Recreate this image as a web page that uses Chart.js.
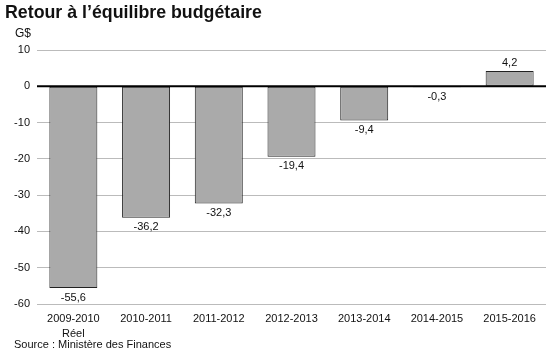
<!DOCTYPE html>
<html>
<head>
<meta charset="utf-8">
<script src="https://cdn.jsdelivr.net/npm/chart.js@4/dist/chart.umd.min.js"></script>
<style>
  body { margin: 0; background: #fff; font-family: "Liberation Sans", Arial, sans-serif; }
  #wrap { position: relative; width: 560px; height: 362px; }
  #title { position: absolute; left: 5px; top: 2px; font-size: 17.8px; font-weight: bold; color: #111; }
  #unit { position: absolute; left: 15px; top: 26px; font-size: 12px; color: #111; }
  #source { position: absolute; left: 14px; top: 338px; font-size: 11px; color: #111; }
  canvas { position: absolute; left: 0; top: 0; }
</style>
</head>
<body>
<div id="wrap">
  <canvas id="chart" width="560" height="362"></canvas>
  <div id="title">Retour à l’équilibre budgétaire</div>
  <div id="unit">G$</div>
  <div id="source">Source : Ministère des Finances</div>
</div>
<script>
  const labels = [
    ['2009-2010', 'Réel'],
    '2010-2011',
    '2011-2012',
    '2012-2013',
    '2013-2014',
    '2014-2015',
    '2015-2016',
  ];
  const soldes = [-55.6, -36.2, -32.3, -19.4, -9.4, -0.3, 4.2];
  const yTicks = [10, 0, -10, -20, -30, -40, -50, -60];

  const valueLabels = {
    id: 'valueLabels',
    afterDatasetsDraw(chart) {
      const ctx = chart.ctx;
      const meta = chart.getDatasetMeta(0);
      ctx.save();
      ctx.font = '11px "Liberation Sans", Arial, sans-serif';
      ctx.fillStyle = '#111';
      ctx.textAlign = 'center';
      meta.data.forEach((bar, i) => {
        const v = soldes[i];
        const txt = v.toFixed(1).replace('.', ',');
        if (v >= 0) {
          ctx.textBaseline = 'bottom';
          ctx.fillText(txt, bar.x, bar.y - 3);
        } else {
          ctx.textBaseline = 'top';
          ctx.fillText(txt, bar.x, Math.max(bar.y, bar.base) + 4);
        }
      });
      ctx.restore();
    }
  };

  const data = {
    labels: labels,
    datasets: [{
      data: soldes,
      backgroundColor: '#aaaaaa',
      borderColor: '#222222',
      borderWidth: 1,
      borderSkipped: false,
      barPercentage: 0.66,
      categoryPercentage: 1,
    }]
  };

  const config = {
    type: 'bar',
    data: data,
    options: {
      responsive: false,
      animation: false,
      layout: { padding: { top: 50, right: 14, left: 0, bottom: 0 } },
      plugins: { legend: { display: false }, tooltip: { enabled: false } },
      scales: {
        x: {
          grid: { display: false },
          border: { display: false },
          ticks: {
            color: '#111',
            font: { size: 11, family: '"Liberation Sans", Arial, sans-serif', lineHeight: 1.35 },
            padding: 0,
            maxRotation: 0,
            autoSkip: false,
          },
          afterFit(scale) { scale.height = 58; }
        },
        y: {
          min: -60,
          max: 10,
          afterBuildTicks(scale) { scale.ticks = yTicks.map(v => ({ value: v })); },
          afterFit(scale) { scale.width = 37; },
          border: { display: false },
          grid: {
            drawTicks: false,
            color: '#bbbbbb',
          },
          ticks: {
            color: '#111',
            font: { size: 11, family: '"Liberation Sans", Arial, sans-serif' },
            padding: 7,
          }
        }
      }
    },
    plugins: [valueLabels, {
      id: 'zeroLine',
      afterDatasetsDraw(chart) {
        const y = chart.scales.y.getPixelForValue(0);
        const ctx = chart.ctx;
        ctx.save();
        ctx.strokeStyle = '#000';
        ctx.lineWidth = 2;
        ctx.beginPath();
        ctx.moveTo(chart.chartArea.left, y);
        ctx.lineTo(chart.chartArea.right, y);
        ctx.stroke();
        ctx.restore();
      }
    }]
  };

  new Chart(document.getElementById('chart'), config);
</script>
</body>
</html>
